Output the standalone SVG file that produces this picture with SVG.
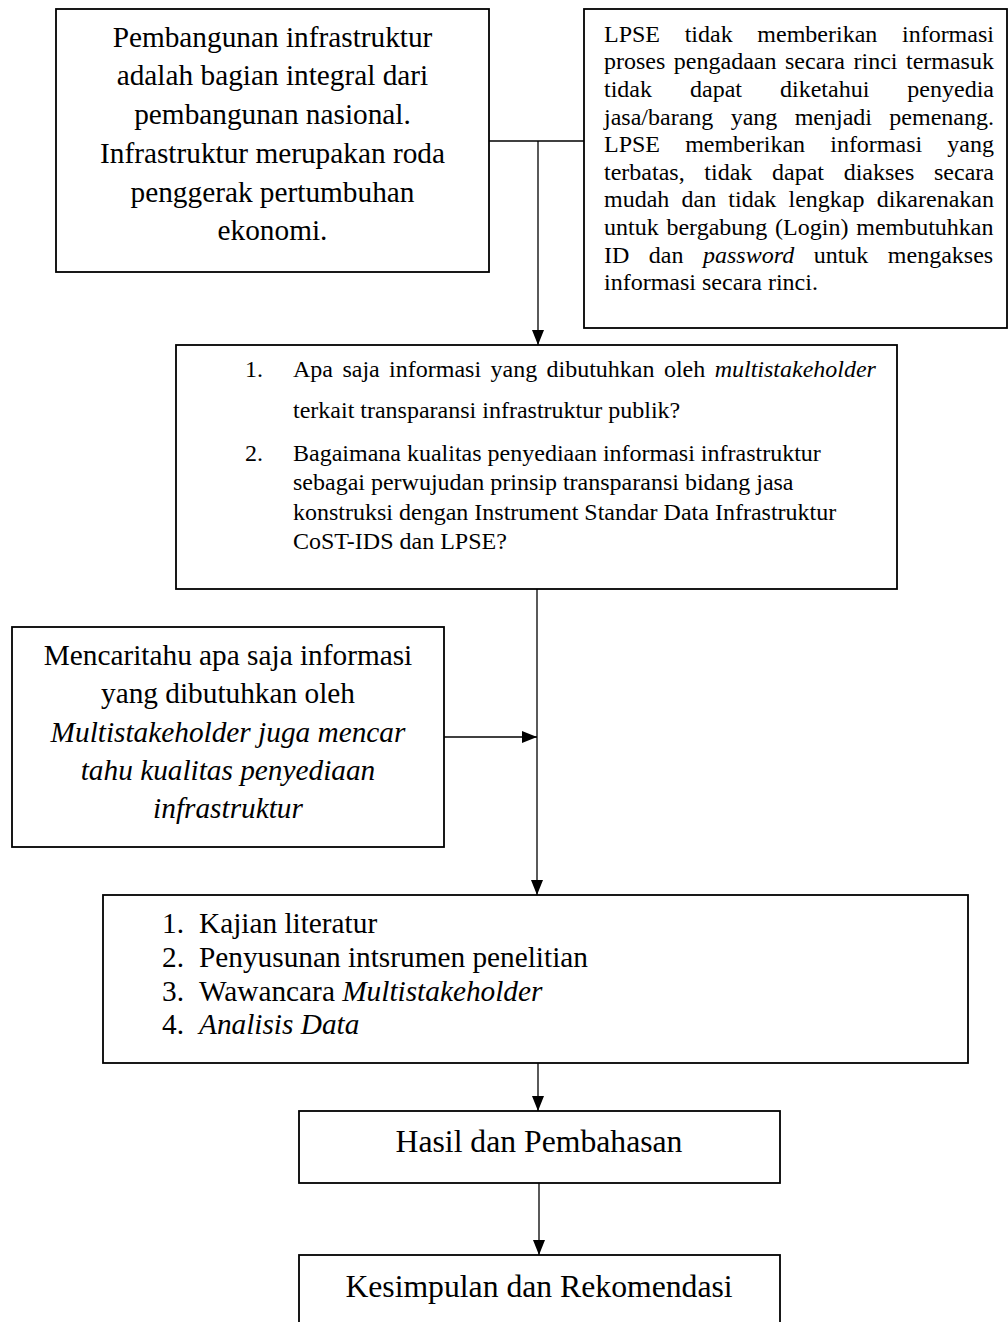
<svg xmlns="http://www.w3.org/2000/svg" width="1008" height="1322" viewBox="0 0 1008 1322">
<style>
.box{fill:#fff;stroke:#000;stroke-width:1.8}
.con{fill:none;stroke:#000;stroke-width:1.3}
text{font-family:"Liberation Serif","Times New Roman",serif;fill:#000}
.c29{font-size:29.3px;text-anchor:middle}
.s24{font-size:24px}
.s29{font-size:29.3px}
.c32{font-size:31.7px;text-anchor:middle}
.it{font-style:italic}
</style>
<defs>
<marker id="arr" markerUnits="userSpaceOnUse" markerWidth="16" markerHeight="13" refX="15" refY="6" orient="auto">
<path d="M0,0 L15,6 L0,12 z" fill="#000"/>
</marker>
</defs>
<rect width="1008" height="1322" fill="#fff"/>

<g id="connectors">
<line class="con" x1="489" y1="141" x2="584" y2="141"/>
<line class="con" x1="538" y1="141" x2="538" y2="345" marker-end="url(#arr)"/>
<line class="con" x1="537" y1="589" x2="537" y2="895" marker-end="url(#arr)"/>
<line class="con" x1="444" y1="737" x2="537" y2="737" marker-end="url(#arr)"/>
<line class="con" x1="538" y1="1063" x2="538" y2="1111" marker-end="url(#arr)"/>
<line class="con" x1="539" y1="1183" x2="539" y2="1255" marker-end="url(#arr)"/>
</g>

<g id="node-pembangunan">
<rect class="box" x="56" y="9" width="433" height="263"/>
<text class="c29" x="272.5" y="46.7">Pembangunan infrastruktur</text>
<text class="c29" x="272.5" y="85.4">adalah bagian integral dari</text>
<text class="c29" x="272.5" y="124.1">pembangunan nasional.</text>
<text class="c29" x="272.5" y="162.8">Infrastruktur merupakan roda</text>
<text class="c29" x="272.5" y="201.5">penggerak pertumbuhan</text>
<text class="c29" x="272.5" y="240.2">ekonomi.</text>
</g>

<g id="node-lpse">
<rect class="box" x="584" y="9" width="423" height="319"/>
<text class="s24" x="604" y="41.7" word-spacing="18.67">LPSE tidak memberikan informasi</text>
<text class="s24" x="604" y="69.3" word-spacing="2.53">proses pengadaan secara rinci termasuk</text>
<text class="s24" x="604" y="96.9" word-spacing="32.02">tidak dapat diketahui penyedia</text>
<text class="s24" x="604" y="124.5" word-spacing="11.36">jasa/barang yang menjadi pemenang.</text>
<text class="s24" x="604" y="152.1" word-spacing="19.12">LPSE memberikan informasi yang</text>
<text class="s24" x="604" y="179.7" word-spacing="13.69">terbatas, tidak dapat diakses secara</text>
<text class="s24" x="604" y="207.3" word-spacing="6.19">mudah dan tidak lengkap dikarenakan</text>
<text class="s24" x="604" y="234.9" word-spacing="1.79">untuk bergabung (Login) membutuhkan</text>
<text class="s24" x="604" y="262.5" word-spacing="13.51">ID dan <tspan class="it">password</tspan> untuk mengakses</text>
<text class="s24" x="604" y="290.1">informasi secara rinci.</text>
</g>

<g id="node-pertanyaan">
<rect class="box" x="176" y="345" width="721" height="244"/>
<text class="s24" x="245" y="377">1.</text>
<text class="s24" x="293" y="377" word-spacing="3.4">Apa saja informasi yang dibutuhkan oleh <tspan class="it">multistakeholder</tspan></text>
<text class="s24" x="293" y="418">terkait transparansi infrastruktur publik?</text>
<text class="s24" x="245" y="461">2.</text>
<text class="s24" x="293" y="461">Bagaimana kualitas penyediaan informasi infrastruktur</text>
<text class="s24" x="293" y="490">sebagai perwujudan prinsip transparansi bidang jasa</text>
<text class="s24" x="293" y="520">konstruksi dengan Instrument Standar Data Infrastruktur</text>
<text class="s24" x="293" y="549">CoST-IDS dan LPSE?</text>
</g>

<g id="node-tujuan">
<rect class="box" x="12" y="627" width="432" height="220"/>
<text class="c29" x="228" y="665">Mencaritahu apa saja informasi</text>
<text class="c29" x="228" y="703">yang dibutuhkan oleh</text>
<text class="c29 it" x="228" y="742">Multistakeholder juga mencar</text>
<text class="c29 it" x="228" y="780">tahu kualitas penyediaan</text>
<text class="c29 it" x="228" y="818">infrastruktur</text>
</g>

<g id="node-metode">
<rect class="box" x="103" y="895" width="865" height="168"/>
<text class="s29" x="162" y="933">1.</text>
<text class="s29" x="199" y="933">Kajian literatur</text>
<text class="s29" x="162" y="967">2.</text>
<text class="s29" x="199" y="967">Penyusunan intsrumen penelitian</text>
<text class="s29" x="162" y="1001">3.</text>
<text class="s29" x="199" y="1001">Wawancara <tspan class="it">Multistakeholder</tspan></text>
<text class="s29" x="162" y="1034">4.</text>
<text class="s29 it" x="199" y="1034">Analisis Data</text>
</g>

<g id="node-hasil">
<rect class="box" x="299" y="1111" width="481" height="72"/>
<text class="c32" x="539" y="1152">Hasil dan Pembahasan</text>
</g>

<g id="node-kesimpulan">
<rect class="box" x="299" y="1255" width="481" height="90"/>
<text class="c32" x="539" y="1297">Kesimpulan dan Rekomendasi</text>
</g>
</svg>
